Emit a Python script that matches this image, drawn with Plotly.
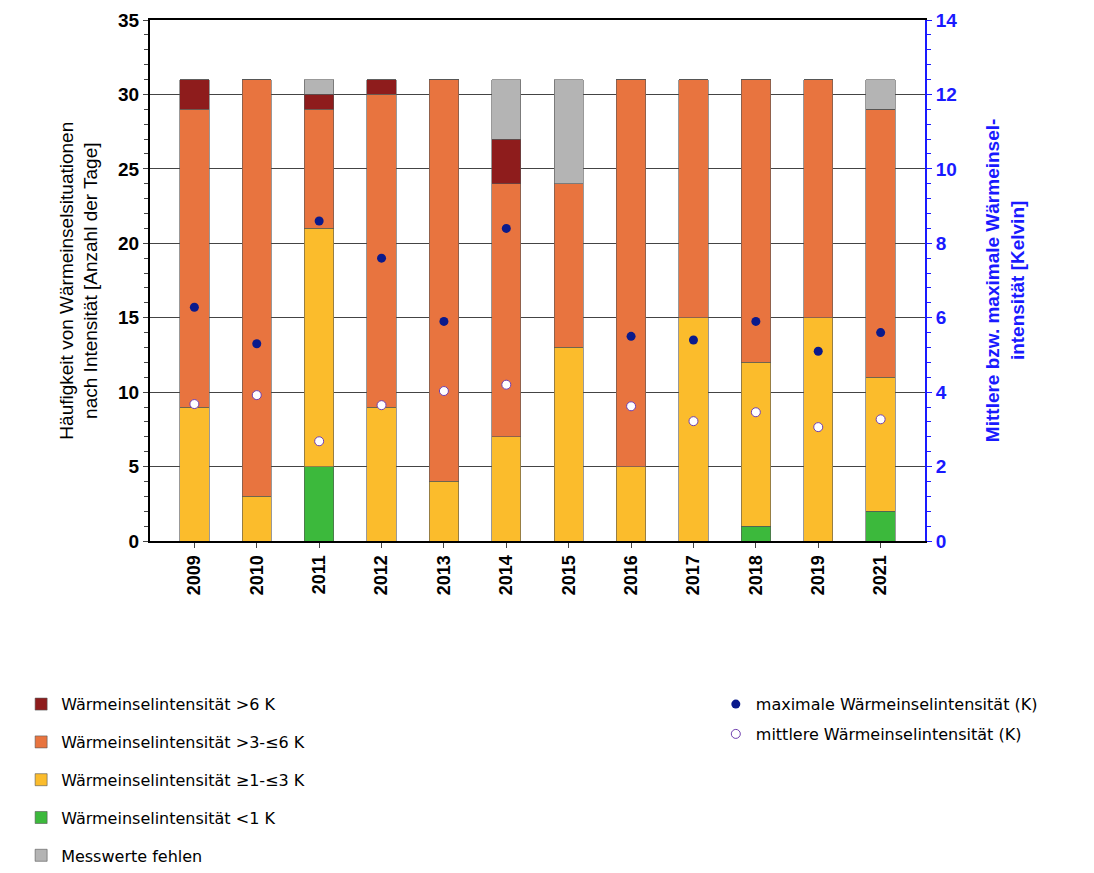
import plotly.graph_objects as go

# Data
years = ['2009', '2010', '2011', '2012', '2013', '2014', '2015', '2016', '2017', '2018', '2019', '2021']
lt1 = [0, 0, 5, 0, 0, 0, 0, 0, 0, 1, 0, 2]
b1_3 = [9, 3, 16, 9, 4, 7, 13, 5, 15, 11, 15, 9]
b3_6 = [20, 28, 8, 21, 27, 17, 11, 26, 16, 19, 16, 18]
gt6 = [2, 0, 1, 1, 0, 3, 0, 0, 0, 0, 0, 0]
missing = [0, 0, 1, 0, 0, 4, 7, 0, 0, 0, 0, 2]
max_int = [6.28, 5.3, 8.6, 7.6, 5.9, 8.4, None, 5.5, 5.4, 5.9, 5.1, 5.6]
mean_int = [3.68, 3.92, 2.68, 3.65, 4.03, 4.2, None, 3.62, 3.22, 3.46, 3.06, 3.27]

font = 'Liberation Sans'
fig = go.Figure()

series = [
    (lt1, 'Wärmeinselintensität <1 K', '#3cb93c', 4),
    (b1_3, 'Wärmeinselintensität ≥1-≤3 K', '#fbbc2c', 3),
    (b3_6, 'Wärmeinselintensität >3-≤6 K', '#e8743f', 2),
    (gt6, 'Wärmeinselintensität >6 K', '#8e1c1c', 1),
    (missing, 'Messwerte fehlen', '#b4b4b4', 5),
]
for vals, name, color, rank in series:
    fig.add_trace(go.Bar(x=years, y=vals, name=name, marker_color=color,
                         marker_line=dict(color='#555555', width=0.6),
                         width=0.47, legendrank=rank, legendgroup=name, legend='legend'))

fig.add_trace(go.Scatter(x=years, y=max_int, mode='markers', yaxis='y2',
                         name='maximale Wärmeinselintensität (K)', legendgroup='max',
                         marker=dict(color='#0a1a8c', size=9), legend='legend2'))
fig.add_trace(go.Scatter(x=years, y=mean_int, mode='markers', yaxis='y2',
                         name='mittlere Wärmeinselintensität (K)', legendgroup='mean',
                         marker=dict(color='white', size=9, line=dict(color='#7040b0', width=1)),
                         legend='legend2'))

fig.add_annotation(text='Häufigkeit von Wärmeinselsituationen<br>nach Intensität [Anzahl der Tage]',
                   xref='paper', yref='paper', x=-0.125, y=0.5, textangle=-90, showarrow=False,
                   font=dict(size=19, color='black'))
fig.add_annotation(text='<b>Mittlere bzw. maximale Wärmeinsel-<br>intensität [Kelvin]</b>',
                   xref='paper', yref='paper', x=1.135, y=0.5, textangle=-90, showarrow=False,
                   font=dict(size=19, color='#1a1aff'))

fig.update_layout(
    width=1094, height=873, barmode='stack',
    plot_bgcolor='white', paper_bgcolor='white',
    margin=dict(l=142, r=177, t=12, b=340, autoexpand=False),
    font=dict(family=font, size=17, color='black'),
    xaxis=dict(type='category', tickangle=-90, showline=True, linecolor='black', linewidth=2,
               mirror=True, ticks='outside', tickfont=dict(size=18, family=font, weight='bold')),
    yaxis=dict(range=[0, 35], dtick=5, showgrid=True, gridcolor='#444444', gridwidth=1,
               showline=True, linecolor='black', linewidth=2, ticks='outside',
               tickfont=dict(size=19, weight='bold'),
               minor=dict(dtick=1, ticks='outside', ticklen=4)),
    yaxis2=dict(range=[0, 14], dtick=2, overlaying='y', side='right', showgrid=False,
                showline=True, linecolor='#1a1aff', linewidth=2, ticks='outside',
                tickcolor='#1a1aff', tickfont=dict(size=19, color='#1a1aff', weight='bold'),
                minor=dict(dtick=0.4, ticks='outside', ticklen=4, tickcolor='#1a1aff')),
    legend=dict(xref='container', yref='container', x=0.012, y=0.222, xanchor='left', yanchor='top',
                traceorder='grouped', font=dict(size=16, family='DejaVu Sans'),
                itemwidth=30, tracegroupgap=14),
    legend2=dict(xref='container', yref='container', x=0.647, y=0.222, xanchor='left', yanchor='top',
                 traceorder='grouped', font=dict(size=16, family='DejaVu Sans'), tracegroupgap=6),
)

fig.write_html('out.html')
